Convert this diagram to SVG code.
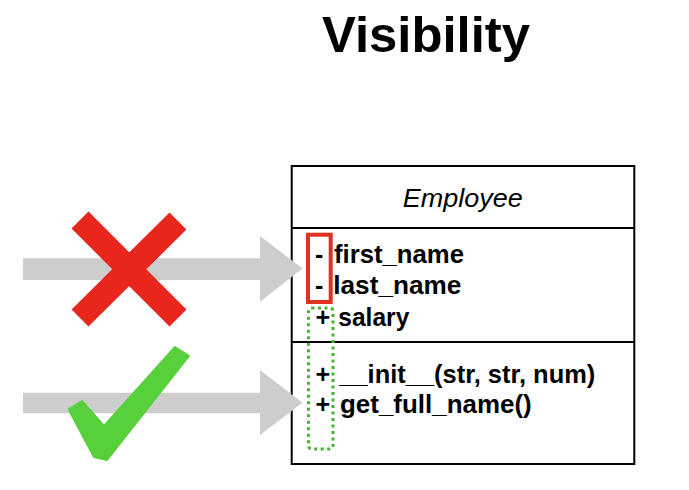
<svg xmlns="http://www.w3.org/2000/svg" width="689" height="490" viewBox="0 0 689 490">
<style>
.t{font-family:"Liberation Sans",Arial,sans-serif;font-weight:bold;font-size:25px;fill:#000}
.arrow{fill:#cdcdcd}
</style>
<rect width="689" height="490" fill="#fff"/>
<text x="426" y="52" text-anchor="middle" font-family="Liberation Sans, Arial, sans-serif" font-weight="bold" font-size="50" textLength="208" lengthAdjust="spacingAndGlyphs">Visibility</text>
<g id="employee">
<rect x="291.7" y="166" width="342.6" height="298" fill="#fff" stroke="#000" stroke-width="2"/>
<line x1="291.7" y1="228" x2="634.3" y2="228" stroke="#000" stroke-width="2"/>
<line x1="291.7" y1="342" x2="634.3" y2="342" stroke="#000" stroke-width="2"/>
<text x="462.7" y="206.5" text-anchor="middle" font-family="Liberation Sans, Arial, sans-serif" font-style="italic" font-size="25" textLength="120" lengthAdjust="spacingAndGlyphs">Employee</text>
<text class="t" x="315" y="262.5">-</text>
<text class="t" x="334" y="262.5" textLength="130" lengthAdjust="spacingAndGlyphs">first_name</text>
<text class="t" x="315" y="293.5">-</text>
<text class="t" x="333.3" y="293.5" textLength="128" lengthAdjust="spacingAndGlyphs">last_name</text>
<text class="t" x="315.5" y="325.5">+</text>
<text class="t" x="338.3" y="325.5" textLength="71" lengthAdjust="spacingAndGlyphs">salary</text>
<text class="t" x="315.5" y="383.3">+</text>
<text class="t" x="339.3" y="383.3" textLength="256" lengthAdjust="spacingAndGlyphs">__init__(str, str, num)</text>
<text class="t" x="315.5" y="413.3">+</text>
<text class="t" x="340" y="413.3" textLength="191.7" lengthAdjust="spacingAndGlyphs">get_full_name()</text>
</g>
<g id="private-highlight">
<rect x="308" y="234.7" width="22.7" height="67.3" fill="none" stroke="#e2311f" stroke-width="4"/>
</g>
<g id="public-highlight">
<rect x="308.5" y="308" width="24.5" height="141" rx="3" fill="none" stroke="#44b531" stroke-width="3" stroke-dasharray="3 3.5"/>
</g>
<g id="connectors">
<path class="arrow" d="M23,258.3 H260 V236 L302.5,268.5 L260,301.7 V280 H23 Z"/>
<path class="arrow" d="M23,392.7 H260 V370 L302.5,402.7 L260,435 V413.3 H23 Z"/>
</g>
<g id="cross">
<line x1="80" y1="220" x2="178" y2="318" stroke="#e8261b" stroke-width="24"/>
<line x1="178" y1="221" x2="80" y2="318" stroke="#e8261b" stroke-width="24"/>
</g>
<g id="check">
<polygon points="69,409 82,401 104,426 175,347 189,356 107,460 94,457 70,412" fill="#58d03b" stroke="#58d03b" stroke-width="2" stroke-linejoin="round"/>
</g>
</svg>
